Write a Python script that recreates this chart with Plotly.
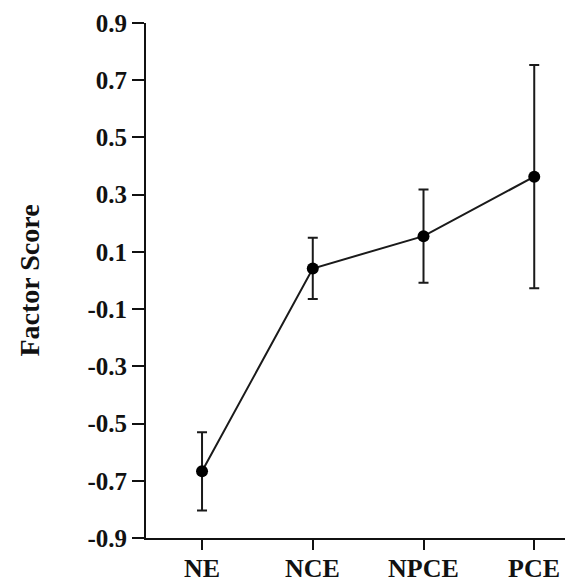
import plotly.graph_objects as go

categories = ["NE", "NCE", "NPCE", "PCE"]
means = [-0.667, 0.042, 0.155, 0.363]
errors = [0.137, 0.107, 0.163, 0.39]
y_ticks = [-0.9, -0.7, -0.5, -0.3, -0.1, 0.1, 0.3, 0.5, 0.7, 0.9]
y_tick_labels = ["-0.9", "-0.7", "-0.5", "-0.3", "-0.1", "0.1", "0.3", "0.5", "0.7", "0.9"]

font_family = "Liberation Serif, Times New Roman, serif"

fig = go.Figure()
fig.add_trace(go.Scatter(
    x=list(range(len(categories))),
    y=means,
    mode="lines+markers",
    line=dict(color="#1a1a1a", width=2),
    marker=dict(color="#000000", size=12),
    error_y=dict(type="data", array=errors, visible=True, color="#1a1a1a", thickness=2, width=5),
    showlegend=False,
))

for i, c in enumerate(categories):
    fig.add_annotation(
        x=i, y=0, xref="x", yref="paper",
        text=f"<b>{c}</b>", showarrow=False,
        yanchor="top", yshift=-14,
        font=dict(size=26, family=font_family, color="#111111"),
    )

# page body has an 8px default margin, so the figure is 8px smaller than the window
fig.update_layout(
    width=565, height=576,
    margin=dict(l=138, r=0, t=15, b=46),
    paper_bgcolor="white", plot_bgcolor="white",
    font=dict(family=font_family, color="#111111"),
    xaxis=dict(
        range=[-0.506, 3.35], automargin=False,
        tickmode="array", tickvals=list(range(len(categories))), showticklabels=False,
        showgrid=False, zeroline=False,
        showline=True, linecolor="#111111", linewidth=2,
        ticks="outside", ticklen=10, tickwidth=1.5, tickcolor="#111111",
    ),
    yaxis=dict(
        range=[-0.9, 0.9], automargin=False,
        tickmode="array", tickvals=y_ticks, ticktext=[f"<b>{t}</b>" for t in y_tick_labels],
        ticklabeloverflow="allow",
        showgrid=False, zeroline=False,
        showline=True, linecolor="#111111", linewidth=2,
        ticks="outside", ticklen=12, tickwidth=1.5, tickcolor="#111111",
        tickfont=dict(size=25, family=font_family),
        title=dict(text="<b>Factor Score</b>", font=dict(size=28, family=font_family), standoff=40),
    ),
)

fig.write_html("out.html")
